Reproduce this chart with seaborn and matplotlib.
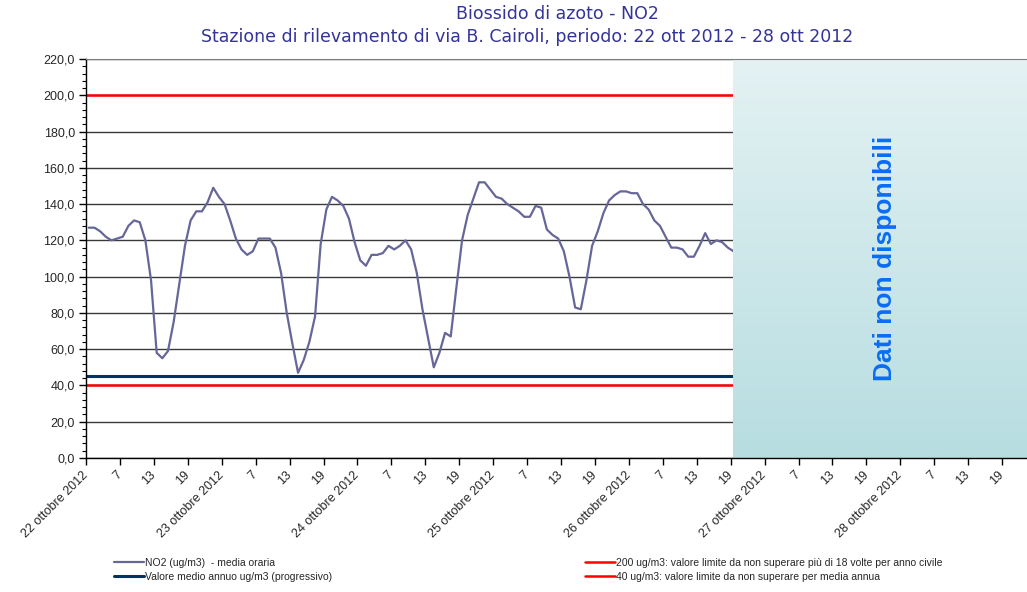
import numpy as np
import pandas as pd
import seaborn as sns
import matplotlib.pyplot as plt
from matplotlib.colors import LinearSegmentedColormap
from matplotlib.ticker import MultipleLocator, FuncFormatter

# hourly NO2 (ug/m3), 22 ott 2012 h1 .. 26 ott 2012 h19
no2 = [127, 127, 125, 122, 120, 121, 122, 128, 131, 130,
       120, 98, 58, 55, 59, 75, 96, 117, 131, 136,
       136, 141, 149, 144, 140, 131, 121, 115, 112, 114,
       121, 121, 121, 116, 102, 80, 63, 47, 54, 64,
       78, 118, 137, 144, 142, 139, 132, 119, 109, 106,
       112, 112, 113, 117, 115, 117, 120, 115, 102, 82,
       66, 50, 58, 69, 67, 94, 120, 134, 143, 152,
       152, 148, 144, 143, 140, 138, 136, 133, 133, 139,
       138, 126, 123, 121, 114, 100, 83, 82, 98, 117,
       125, 135, 142, 145, 147, 147, 146, 146, 140, 137,
       131, 128, 122, 116, 116, 115, 111, 111, 117, 124,
       118, 120, 119, 116, 114]

days = ["22", "23", "24", "25", "26", "27", "28"]
hour_labels = ["7", "13", "19"]
tick_labels = []
for d in days:
    tick_labels += [d + " ottobre 2012"] + hour_labels

annual_mean = 45
limit_hourly = 200
limit_annual = 40
n_hours = 168

labels = ["NO2 (ug/m3)  - media oraria",
          "Valore medio annuo ug/m3 (progressivo)",
          "200 ug/m3: valore limite da non superare più di 18 volte per anno civile",
          "40 ug/m3: valore limite da non superare per media annua"]

sns.set_style("white")
plt.rcParams['font.family'] = ['Liberation Sans', 'DejaVu Sans']

df = pd.DataFrame({"pos": np.arange(len(no2)) + 0.5, "no2": no2})

fig = plt.figure(figsize=(10.27, 5.92), dpi=100)
ax = fig.add_axes([86 / 1027, 1 - 458 / 592, (1036 - 86) / 1027, (458 - 59) / 592])

sns.lineplot(data=df, x="pos", y="no2", color="#666699", lw=1.6, ax=ax,
             label=labels[0], zorder=2.6)
ax.axhline(annual_mean, color="#003366", lw=2.2, label=labels[1], zorder=2.4)
ax.axhline(limit_hourly, color="#ff0000", lw=1.8, label=labels[2], zorder=2.4)
ax.axhline(limit_annual, color="#ff0000", lw=1.8, label=labels[3], zorder=2.4)

# area with no data, gradient shading
nd_start = len(no2) - 0.5
cmap = LinearSegmentedColormap.from_list("nd", ["#e4f2f3", "#b7dde1"])
grad = np.linspace(0, 1, 256).reshape(-1, 1)
ax.imshow(grad, cmap=cmap, extent=[nd_start, n_hours, 0, 220],
          origin="upper", aspect="auto", zorder=3)
ax.text((nd_start + n_hours) / 2, 110, "Dati non disponibili",
        rotation=90, ha="center", va="center", color="#0a6cf5",
        fontsize=19, fontweight="bold", zorder=4)

ax.set_xlim(0, n_hours)
ax.set_ylim(0, 220)
ax.set_xticks(np.arange(0, n_hours, 6))
ax.set_xticklabels(tick_labels, rotation=45, ha="right", va="center",
                   rotation_mode="anchor", fontsize=9)
ax.set_yticks(np.arange(0, 221, 20))
ax.yaxis.set_minor_locator(MultipleLocator(4))
ax.yaxis.set_major_formatter(FuncFormatter(lambda v, p: f"{v:.1f}".replace(".", ",")))
ax.tick_params(axis="y", which="major", left=True, length=5, width=1, pad=3,
               labelsize=9, color="black")
ax.tick_params(axis="y", which="minor", left=True, length=3, width=0.8, color="black")
ax.tick_params(axis="x", which="major", bottom=True, length=5, width=1, pad=6,
               color="black")
ax.set_xlabel("")
ax.set_ylabel("")

ax.set_axisbelow(True)
ax.yaxis.grid(True, color="#3a3a3a", lw=1)
ax.xaxis.grid(False)

for s in ["left", "bottom"]:
    ax.spines[s].set_color("black")
    ax.spines[s].set_linewidth(1)
    ax.spines[s].set_zorder(5)
ax.spines["top"].set_color("#808080")
ax.spines["top"].set_zorder(5)
ax.spines["right"].set_visible(False)

ax.get_legend().remove()
h, l = ax.get_legend_handles_labels()
leg_kw = dict(loc="upper left", frameon=False, fontsize=7.5, handlelength=2.9,
              handletextpad=0.1, labelspacing=0.38, borderpad=0, borderaxespad=0)
fig.legend(h[:2], l[:2], bbox_to_anchor=(114 / 1027, 1 - 558 / 592), **leg_kw)
fig.legend(h[2:], l[2:], bbox_to_anchor=(585 / 1027, 1 - 558 / 592), **leg_kw)

title_color = "#333399"
fig.text(557 / 1027, 1 - 14 / 592, "Biossido di azoto - NO2", ha="center",
         va="center", color=title_color, fontsize=12.5, family="DejaVu Sans")
fig.text(527 / 1027, 1 - 37 / 592,
         "Stazione di rilevamento di via B. Cairoli, periodo: 22 ott 2012 - 28 ott 2012",
         ha="center", va="center", color=title_color, fontsize=12.5, family="DejaVu Sans")

fig.savefig("out.png", dpi=100)
